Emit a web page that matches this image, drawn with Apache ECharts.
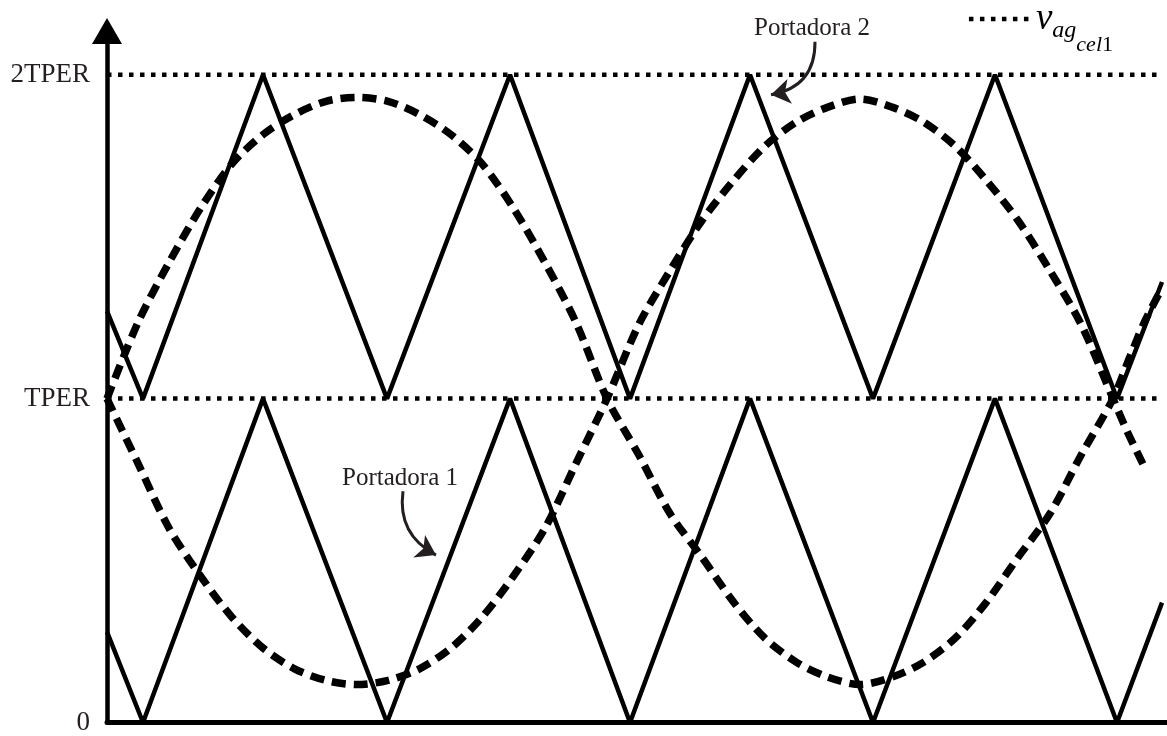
<!DOCTYPE html>
<html>
<head>
<meta charset="utf-8">
<script src="https://cdn.jsdelivr.net/npm/echarts@6/dist/echarts.min.js"></script>
<style>
  html, body { margin: 0; padding: 0; background: #fff; }
  #chart { width: 1167px; height: 736px; }
</style>
</head>
<body>
<div id="chart"></div>
<script>
// Time axis (arbitrary units) and carrier vertices
const tCarrier = [0, 36, 156, 280, 403, 523, 643, 766, 888, 1010, 1055];
const carrier1 = [0.28, 0, 1, 0, 1, 0, 1, 0, 1, 0, 0.37];
const carrier2 = [1.27, 1, 2, 1, 2, 1, 2, 1, 2, 1, 1.36];

// Modulating waveform (rises first)
const tRef1 = [0, 31, 62, 94, 125, 156, 188, 219, 250, 281, 312, 344, 375, 406, 438, 469, 500,
  532, 563, 595, 627, 658, 690, 721, 753, 785, 816, 848, 879, 911, 943, 974, 1006,
  1023, 1038, 1053];
const vRef1 = [1.0, 1.235, 1.42, 1.59, 1.725, 1.815, 1.878, 1.918, 1.93, 1.918, 1.878, 1.815,
  1.725, 1.59, 1.42, 1.235, 1.0,
  0.825, 0.645, 0.51, 0.37, 0.26, 0.185, 0.14, 0.117, 0.14, 0.185, 0.26, 0.37, 0.51, 0.645,
  0.825, 1.0, 1.13, 1.24, 1.33];

// Complementary waveform (falls first)
const tRef2 = [0, 31, 62, 94, 125, 156, 188, 219, 250, 281, 312, 344, 375, 406, 438, 469, 500,
  532, 563, 595, 627, 658, 690, 721, 753, 785, 816, 848, 879, 911, 943, 974, 1006,
  1020, 1038];
const vRef2 = [1.0, 0.8, 0.6, 0.45, 0.325, 0.23, 0.165, 0.13, 0.117, 0.13, 0.165, 0.23, 0.325,
  0.45, 0.6, 0.8, 1.0,
  1.23, 1.395, 1.55, 1.675, 1.78, 1.855, 1.9, 1.925, 1.9, 1.855, 1.78, 1.675, 1.55, 1.395,
  1.23, 1.0, 0.9, 0.785];

// Y tick labels
const yTickValues = [0, 1, 2];
const yTickLabels = ['0', 'TPER', '2TPER'];

// Reference levels (dotted)
const levelValues = [1, 2];
const levelSpan = [0, 1053];

// Annotations: label text, label anchor, arrow tail, arrow head
const noteTexts = ['Portadora 1', 'Portadora 2'];
const noteAnchors = [[293, 0.755], [705, 2.143]];
const arrowTails = [[296, 0.714], [708, 2.102]];
const arrowHeads = [[329, 0.517], [664, 1.938]];
const arrowBends = [-0.35, 0.42];

const legendName = 'vagcel1';

const pair = (xs, ys) => xs.map((x, i) => [x, ys[i]]);
const serif = 'Liberation Serif';
const ink = '#231f20';

const series = [
  {
    type: 'line', data: pair(tCarrier, carrier1), symbol: 'none', z: 3,
    lineStyle: { color: '#000', width: 4.5 }
  },
  {
    type: 'line', data: pair(tCarrier, carrier2), symbol: 'none', z: 3,
    lineStyle: { color: '#000', width: 4.5 }
  }
];

levelValues.forEach(v => {
  series.push({
    type: 'line', data: levelSpan.map(x => [x, v]), symbol: 'none', z: 2,
    lineStyle: { color: '#000', width: 4.5, type: [4.5, 6.5], cap: 'butt' }
  });
});

series.push(
  {
    name: legendName, type: 'line', data: pair(tRef1, vRef1), symbol: 'none', smooth: 0.3, z: 4,
    color: '#000',
    lineStyle: { color: '#000', width: 7.5, type: [14, 8], cap: 'butt' }
  },
  {
    type: 'line', data: pair(tRef2, vRef2), symbol: 'none', smooth: 0.3, z: 4,
    lineStyle: { color: '#000', width: 7.5, type: [14, 8], cap: 'butt' }
  },
  {
    type: 'lines', coordinateSystem: 'cartesian2d', z: 5,
    symbol: ['none', 'arrow'], symbolSize: 19,
    data: arrowTails.map((p, i) => ({
      coords: [p, arrowHeads[i]],
      lineStyle: { curveness: arrowBends[i] }
    })),
    lineStyle: { color: ink, width: 3, opacity: 1 }
  },
  {
    type: 'scatter', symbolSize: 0, clip: false, z: 6,
    itemStyle: { opacity: 1 },
    data: noteAnchors.map((p, i) => ({ value: p, name: noteTexts[i] })),
    label: {
      show: true, position: 'inside', formatter: p => p.name, opacity: 1,
      fontFamily: serif, fontSize: 25, color: ink, textBorderWidth: 0
    }
  }
);

const chart = echarts.init(document.getElementById('chart'), null, { renderer: 'canvas' });
chart.setOption({
  animation: false,
  backgroundColor: '#fff',
  grid: { left: 107, right: 0, top: 31, bottom: 11 },
  legend: {
    data: [legendName],
    right: 54, top: 1, padding: 0,
    itemWidth: 62, itemHeight: 10,
    itemStyle: { opacity: 0 },
    lineStyle: { color: '#000', width: 4.5, type: [4.5, 6.5], cap: 'butt' },
    formatter: () => '{v|v}{ag|ag}{cel|cel}{one|1}',
    textStyle: {
      color: '#000',
      rich: {
        v: { fontFamily: serif, fontStyle: 'italic', fontSize: 37, lineHeight: 36, verticalAlign: 'top' },
        ag: { fontFamily: serif, fontStyle: 'italic', fontSize: 24, lineHeight: 24, verticalAlign: 'top', padding: [18, 0, 0, 0] },
        cel: { fontFamily: serif, fontStyle: 'italic', fontSize: 22, lineHeight: 22, verticalAlign: 'top', padding: [33, 0, 0, 0] },
        one: { fontFamily: serif, fontSize: 22, lineHeight: 22, verticalAlign: 'top', padding: [33, 0, 0, 0] }
      }
    }
  },
  xAxis: {
    type: 'value', min: 0, max: 1060,
    axisLine: { show: true, lineStyle: { color: '#000', width: 5 } },
    axisTick: { show: false }, axisLabel: { show: false }, splitLine: { show: false }
  },
  yAxis: {
    type: 'value', min: 0, max: 2.135, interval: 1,
    axisLine: {
      show: true, symbol: ['none', 'triangle'], symbolSize: [30, 26],
      lineStyle: { color: '#000', width: 4.5 }
    },
    axisTick: { show: false }, splitLine: { show: false },
    axisLabel: {
      margin: 17, fontFamily: serif, fontSize: 27, color: ink,
      formatter: v => {
        const i = yTickValues.indexOf(v);
        return i >= 0 ? yTickLabels[i] : '';
      }
    }
  },
  series
});
</script>
</body>
</html>
